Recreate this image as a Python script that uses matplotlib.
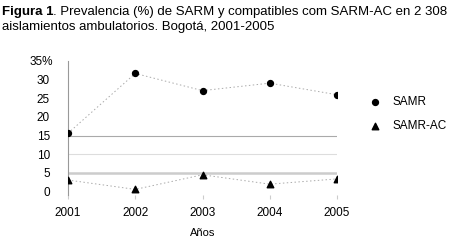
import matplotlib.pyplot as plt
from matplotlib.transforms import offset_copy

plt.rcParams['font.family'] = ['Liberation Sans', 'DejaVu Sans']

years = [2001, 2002, 2003, 2004, 2005]
samr = [15.6, 31.6, 27.0, 29.0, 25.9]
samr_ac = [3.1, 0.6, 4.5, 2.0, 3.4]
y_ticks = [0, 5, 10, 15, 20, 25, 30, 35]
y_labels = ['0', '5', '10', '15', '20', '25', '30', '35%']
grid_vals = [15, 10, 5]

fig = plt.figure(figsize=(4.55, 2.4), dpi=100)
ax = fig.add_axes([68 / 455, 1 - 195 / 240, (337 - 68) / 455, (195 - 60.7) / 240])

# only 15, 10 and 5 have reference lines in the original
ax.axhline(grid_vals[0], color='#aaaaaa', lw=0.8, zorder=1)
ax.axhline(grid_vals[1], color='#dddddd', lw=0.8, zorder=1)
ax.axhline(grid_vals[2], color='#cccccc', lw=1.8, zorder=1)

ax.plot(years, samr, color='#aaaaaa', lw=0.7, linestyle=(0, (1.5, 2.5)), zorder=2)
ax.plot(years, samr_ac, color='#aaaaaa', lw=0.7, linestyle=(0, (1.5, 2.5)), zorder=2)
ax.scatter(years, samr, marker='o', s=18, color='black', zorder=3, label='SAMR')
ax.scatter(years, samr_ac, marker='^', s=22, color='black', zorder=3, label='SAMR-AC')

ax.set_xlim(2001, 2005)
ax.set_ylim(-0.9, 35)
ax.set_xticks(years)
ax.set_xticklabels([str(y) for y in years], fontsize=8.5)
ax.set_yticks(y_ticks)
ax.set_yticklabels(y_labels, fontsize=8.5)
ax.tick_params(axis='y', length=0, pad=13)
ax.tick_params(axis='x', length=3, color='#cccccc', pad=6, direction='out')
for s in ['top', 'right', 'bottom']:
    ax.spines[s].set_visible(False)
ax.spines['left'].set_color('#999999')
ax.spines['left'].set_linewidth(0.8)
ax.set_xlabel('Años', fontsize=8, labelpad=6)

# "35%" sits a little further right than the plain numbers
top = ax.get_yticklabels()[-1]
top.set_transform(offset_copy(top.get_transform(), fig=fig, x=3, units='dots'))

ax.legend(loc='upper left', bbox_to_anchor=(1.10, 0.77), frameon=False, fontsize=8.5,
          handletextpad=1.0, labelspacing=1.0, handlelength=1.0, borderaxespad=0)

t1 = fig.text(0.004, 0.975, 'Figura 1', fontsize=9.5, fontweight='bold', va='top', ha='left')
fig.canvas.draw()
bb = t1.get_window_extent().transformed(fig.transFigure.inverted())
fig.text(bb.x1, 0.975, '. Prevalencia (%) de SARM y compatibles com SARM-AC en 2 308',
         fontsize=9.5, va='top', ha='left')
fig.text(0.004, 0.913, 'aislamientos ambulatorios. Bogotá, 2001-2005',
         fontsize=9.5, va='top', ha='left')

fig.savefig('out.png', dpi=100)
